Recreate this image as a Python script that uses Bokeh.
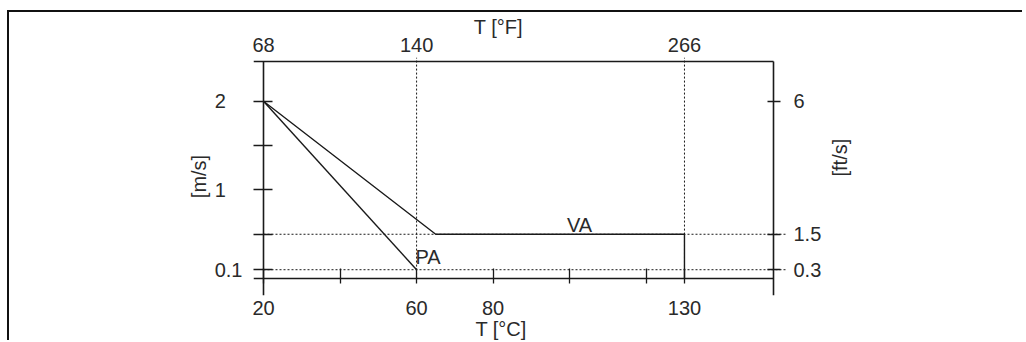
import math
from bokeh.plotting import figure
from bokeh.models import Range1d, LinearAxis, FixedTicker, Label
from bokeh.embed import file_html
from bokeh.resources import INLINE

# ---------------- data ----------------
va_T = [20, 65, 130, 130]          # °C
va_v = [2.0, 0.5, 0.5, 0.0]        # m/s
pa_T = [20, 60]
pa_v = [2.0, 0.1]
limit_T = [60, 130]                # dotted verticals (°C)
limit_v = [0.5, 0.1]               # dotted horizontals (m/s)

c_ticks = [20, 40, 60, 80, 100, 120, 130]
c_labels = {20: "20", 40: "", 60: "60", 80: "80", 100: "", 120: "", 130: "130"}
f_ticks = [68, 140, 266]
ms_ticks = [0.1, 0.5, 1, 1.5, 2]
ms_labels = {0.1: "0.1", 0.5: "", 1: "1\u2008\u2007", 1.5: "", 2: "2\u2008\u2007"}
fts_ticks = [0.3, 1.5, 6]
fts_labels = {0.3: "0.3", 1.5: "1.5", 6: "6"}

series_names = ["VA", "PA"]
x_title_top = "T [°F]"
x_title_bottom = "T [°C]"
y_title_left = "[m/s]"
y_title_right = "[ft/s]"

# ---------------- layout (pixels inside the figure) ----------------
W, H = 1015, 330
FL, FR, FT, FB = 244, 778, 44, 283     # plot frame
X0_PX, KX = 254, 3.827                 # 20 °C position, px per °C
Y0_PX, KY = 266, 89.0                  # 0 m/s position, px per m/s
BOX_R_PX, BOX_T_PX = 764, 48

def cx(px):
    return 20 + (px - X0_PX) / KX

def vy(py):
    return (Y0_PX - py) / KY

x_start, x_end = cx(FL), cx(FR)
y_start, y_end = vy(FB), vy(FT)
box_r, box_t = cx(BOX_R_PX), vy(BOX_T_PX)

FONT = "Liberation Sans"
TXT = "#2a2a2a"
INK = "#1a1a1a"
FS = "20px"
NB = "\u00a0"

p = figure(width=W, height=H, output_backend="svg", toolbar_location=None,
           x_range=Range1d(x_start, x_end), y_range=Range1d(y_start, y_end),
           min_border_left=FL, min_border_right=W - FR,
           min_border_top=FT, min_border_bottom=H - FB)
p.outline_line_color = None
p.xgrid.visible = False
p.ygrid.visible = False
p.background_fill_color = "white"
p.border_fill_color = "white"
p.margin = (10, 0, 0, 7)
p.styles = {"border-top": "2px solid #111", "border-left": "2px solid #111"}

p.extra_x_ranges = {"F": Range1d(x_start * 1.8 + 32, x_end * 1.8 + 32)}
p.extra_y_ranges = {"ft": Range1d(y_start * 3, y_end * 3)}

def style_axis(ax):
    ax.axis_line_color = None
    ax.minor_tick_line_color = None
    ax.major_tick_line_color = INK
    ax.major_tick_line_width = 1.3
    ax.major_label_text_font = FONT
    ax.major_label_text_font_size = FS
    ax.major_label_text_color = TXT
    ax.axis_label_text_font = FONT
    ax.axis_label_text_font_size = FS
    ax.axis_label_text_font_style = "normal"
    ax.axis_label_text_color = TXT

# bottom axis (°C)
bx = p.xaxis[0]
style_axis(bx)
bx.ticker = FixedTicker(ticks=c_ticks)
bx.major_label_overrides = c_labels
bx.major_tick_in = 27
bx.major_tick_out = -12
bx.major_label_standoff = 5
bx.axis_label = x_title_bottom + NB * 7
bx.axis_label_standoff = 0

# left axis (m/s)
ly = p.yaxis[0]
style_axis(ly)
ly.ticker = FixedTicker(ticks=ms_ticks)
ly.major_label_overrides = ms_labels
ly.major_tick_in = 19
ly.major_tick_out = 0
ly.major_label_standoff = 11
ly.axis_label = y_title_left
ly.axis_label_standoff = 2

# top axis (°F)
tx = LinearAxis(x_range_name="F")
style_axis(tx)
tx.ticker = FixedTicker(ticks=f_ticks)
tx.major_tick_line_color = None
tx.major_tick_in = 0
tx.major_tick_out = 0
tx.major_label_standoff = 6
tx.axis_label = x_title_top + NB * 8
tx.axis_label_standoff = -3
p.add_layout(tx, "above")

# right axis (ft/s)
ry = LinearAxis(y_range_name="ft")
style_axis(ry)
ry.ticker = FixedTicker(ticks=fts_ticks)
ry.major_label_overrides = fts_labels
ry.major_tick_in = 20
ry.major_tick_out = -7
ry.major_label_standoff = 6
ry.axis_label = y_title_right
ry.axis_label_standoff = 16
ry.axis_label_orientation = math.pi / 2
p.add_layout(ry, "right")

# frame box drawn in data space
p.line([x_start, box_r], [box_t, box_t], line_color=INK, line_width=1.6)
p.line([x_start, box_r], [0, 0], line_color=INK, line_width=1.6)
p.line([20, 20], [y_start, box_t], line_color=INK, line_width=1.6)
p.line([box_r, box_r], [y_start, box_t], line_color=INK, line_width=1.6)

# dotted reference lines
p.segment(x0=[20] * len(limit_v), y0=limit_v, x1=[x_end] * len(limit_v), y1=limit_v,
          line_color=INK, line_width=1.0, line_dash="2 2")
p.segment(x0=limit_T, y0=[0] * len(limit_T), x1=limit_T, y1=[y_end] * len(limit_T),
          line_color=INK, line_width=1.0, line_dash="2 2")

# curves
p.line(va_T, va_v, line_color=INK, line_width=1.4)
p.line(pa_T, pa_v, line_color=INK, line_width=1.4)

def lab(text, x, y, align="center", baseline="alphabetic"):
    p.add_layout(Label(x=x, y=y, text=text, text_font=FONT, text_font_size=FS,
                       text_color=TXT, text_align=align, text_baseline=baseline))

lab(series_names[0], cx(570), vy(212))
lab(series_names[1], cx(406), vy(244), align="left")

open("out.html", "w").write(file_html(p, INLINE))
